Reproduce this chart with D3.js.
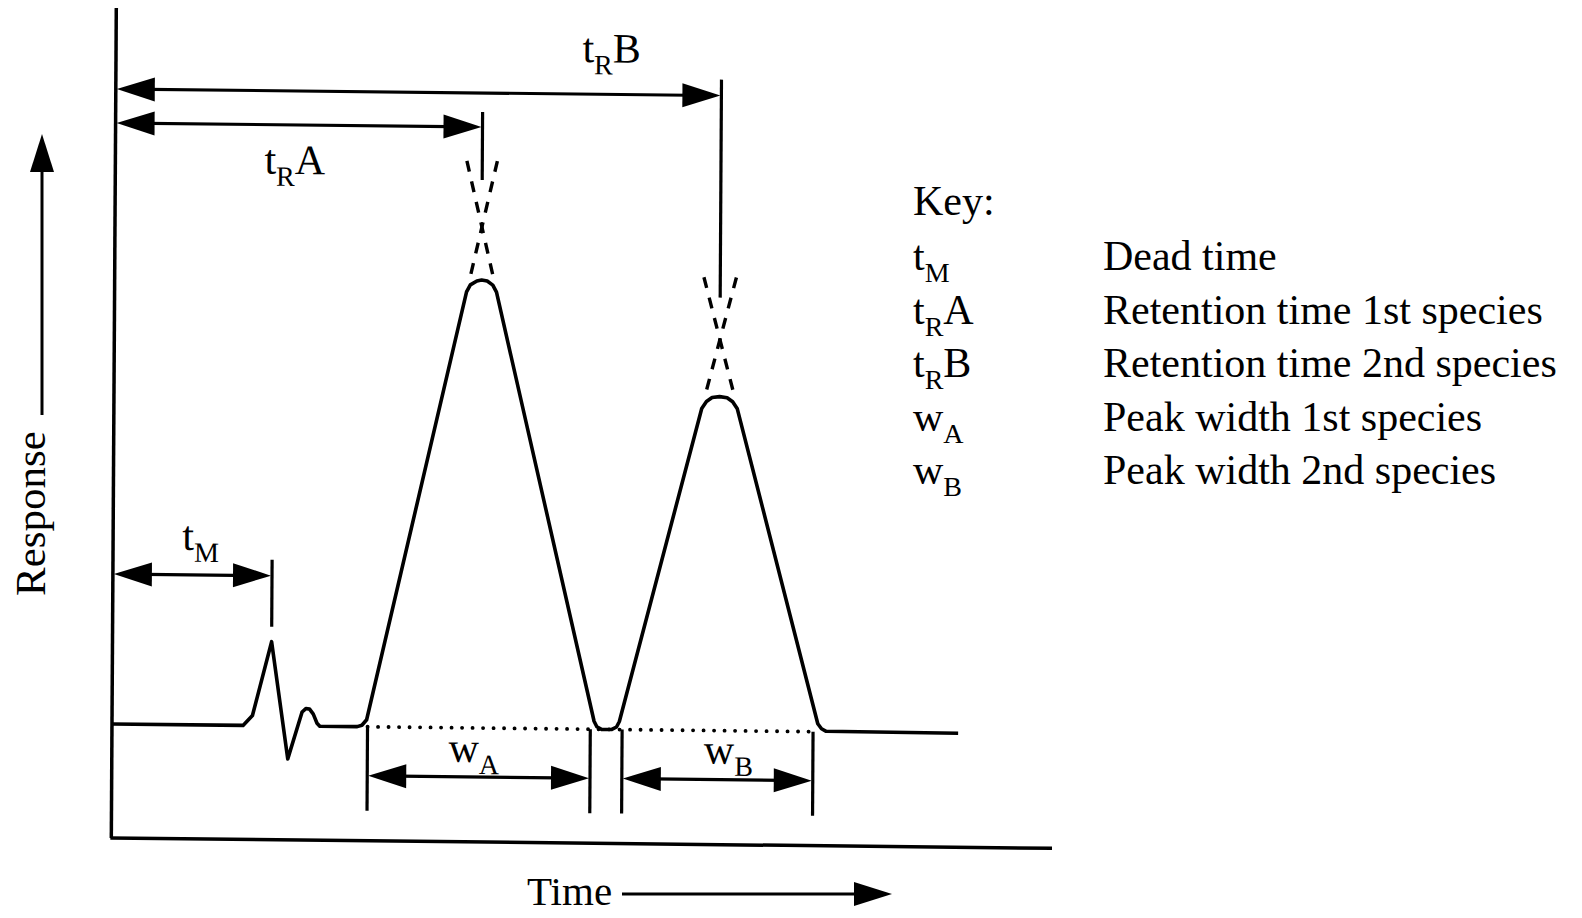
<!DOCTYPE html>
<html>
<head>
<meta charset="utf-8">
<script src="https://cdn.jsdelivr.net/npm/d3@7/dist/d3.min.js"></script>
<style>
  body { margin: 0; background: #fff; }
  svg { display: block; font-family: "Liberation Serif", "Times New Roman", serif; }
</style>
</head>
<body>
<script>
// detector trace [time, response]
var trace = [
  [0, 0], [1.40, 0], [1.50, 0.10], [1.70, 0.84], [1.88, -0.33],
  [2.03, 0.14], [2.07, 0.175], [2.11, 0.17], [2.15, 0.12], [2.19, 0.03], [2.22, 0],
  [2.62, 0], [2.67, 0.015], [2.72, 0.07],
  [3.76, 4.36], [3.80, 4.43], [3.87, 4.47], [3.92, 4.48], [3.98, 4.47], [4.04, 4.43], [4.08, 4.36],
  [5.15, 0.08], [5.18, 0.025], [5.23, 0], [5.34, 0], [5.39, 0.025], [5.42, 0.08],
  [6.28, 3.22], [6.33, 3.29], [6.39, 3.33], [6.47, 3.34], [6.55, 3.33], [6.61, 3.29], [6.66, 3.22],
  [7.54, 0.08], [7.58, 0.03], [7.63, 0.005], [9.04, 0]
];

// peaks
var peakNames = ["A", "B"];
var retentionTimes = [3.92, 6.47];
var apexHeights = [5.01, 3.91];      // where the two tangents cross
var tangentStart = [2.70, 5.39];
var tangentEnd = [5.17, 7.57];
var widthStart = [2.73, 5.45];
var widthEnd = [5.11, 7.49];
var dashFrom = [4.54, 3.41];
var dashTo = [5.73, 4.57];
var retentionArrowLevel = [6.01, 6.35];
var retentionTickTop = [6.16, 6.51];
var retentionTickBottom = [5.48, 4.33];

// dead time
var deadTime = 1.70;
var deadArrowLevel = 1.50;
var deadTick = [0.99, 1.66];

var widthArrowLevel = -0.49;
var widthTickBottom = -0.84;

var axisTime = [0, 10.05];
var axisResp = [-1.14, 7.16];

// key
var keySymbols = [["t", "M", ""], ["t", "R", "A"], ["t", "R", "B"], ["w", "A", ""], ["w", "B", ""]];
var keyLabels = ["Dead time", "Retention time 1st species", "Retention time 2nd species",
                 "Peak width 1st species", "Peak width 2nd species"];

var width = 1582, height = 918;
var svg = d3.select("body").append("svg")
  .attr("width", width)
  .attr("height", height);

var x = d3.scaleLinear().domain([0, 10]).range([112, 1048]);
var y = d3.scaleLinear().domain([0, 5]).range([724, 224]);

// the scan is a little skewed, so the drawing is too
var g = svg.append("g")
  .attr("transform", "matrix(1,0.011,-0.006,1,4.338,-1.276)");

var ink = "#000";
var head = 38, half = 12;

function arrowHead(sel, px, py, dx, dy) {
  // tip at (px,py), pointing along (dx,dy)
  var bx = px - dx * head, by = py - dy * head;
  var nx = -dy * half, ny = dx * half;
  sel.append("path")
    .attr("d", "M" + px + "," + py + "L" + (bx + nx) + "," + (by + ny) + "L" + (bx - nx) + "," + (by - ny) + "Z")
    .attr("fill", ink);
}

function dimArrow(t0, t1, r) {
  var yy = y(r);
  g.append("line")
    .attr("x1", x(t0) + 10).attr("x2", x(t1) - 10)
    .attr("y1", yy).attr("y2", yy)
    .attr("stroke", ink).attr("stroke-width", 3.2);
  arrowHead(g, x(t0) + 1, yy, -1, 0);
  arrowHead(g, x(t1) - 1, yy, 1, 0);
}

function vline(t, r0, r1, w) {
  g.append("line")
    .attr("x1", x(t)).attr("x2", x(t))
    .attr("y1", y(r0)).attr("y2", y(r1))
    .attr("stroke", ink).attr("stroke-width", w || 3.2);
}

function label(px, py, main, sub, after) {
  var t = g.append("text")
    .attr("x", px).attr("y", py)
    .attr("text-anchor", "middle")
    .attr("font-size", 42)
    .attr("fill", ink);
  t.append("tspan").text(main);
  t.append("tspan").attr("dy", 12).attr("font-size", 28).text(sub);
  if (after) t.append("tspan").attr("dy", -12).text(after);
}

// axes
g.append("line")
  .attr("x1", x(0)).attr("x2", x(0))
  .attr("y1", y(axisResp[0])).attr("y2", y(axisResp[1]))
  .attr("stroke", ink).attr("stroke-width", 3.5);
g.append("line")
  .attr("x1", x(axisTime[0]) - 1).attr("x2", x(axisTime[1]))
  .attr("y1", y(axisResp[0])).attr("y2", y(axisResp[0]))
  .attr("stroke", ink).attr("stroke-width", 3.5);

// dotted baseline under the peaks
g.append("line")
  .attr("x1", x(widthStart[0])).attr("x2", x(widthEnd[1]))
  .attr("y1", y(0)).attr("y2", y(0))
  .attr("stroke", ink).attr("stroke-width", 3.8)
  .attr("stroke-linecap", "round")
  .attr("stroke-dasharray", "0.1,10.4");

// trace
var line = d3.line().x(function(d) { return x(d[0]); }).y(function(d) { return y(d[1]); });
g.append("path")
  .attr("d", line(trace))
  .attr("fill", "none")
  .attr("stroke", ink)
  .attr("stroke-width", 3.6)
  .attr("stroke-linejoin", "round");

// extended tangents above each peak
peakNames.forEach(function(n, i) {
  var h = apexHeights[i], tr = retentionTimes[i];
  var leftT = function(r) { return tangentStart[i] + r / h * (tr - tangentStart[i]); };
  var rightT = function(r) { return tangentEnd[i] - r / h * (tangentEnd[i] - tr); };
  [leftT, rightT].forEach(function(f) {
    g.append("line")
      .attr("x1", x(f(dashFrom[i]))).attr("y1", y(dashFrom[i]))
      .attr("x2", x(f(dashTo[i]))).attr("y2", y(dashTo[i]))
      .attr("stroke", ink).attr("stroke-width", 3.4)
      .attr("stroke-dasharray", "11,10");
  });

  // retention time arrow from the start
  vline(tr, retentionTickBottom[i], retentionTickTop[i]);
  dimArrow(0, tr, retentionArrowLevel[i]);

  // peak width
  vline(widthStart[i], 0, widthTickBottom);
  vline(widthEnd[i], 0, widthTickBottom);
  dimArrow(widthStart[i], widthEnd[i], widthArrowLevel);
});

// dead time
vline(deadTime, deadTick[0], deadTick[1]);
dimArrow(0, deadTime, deadArrowLevel);

// labels on the drawing
label(x(retentionTimes[1]) - 110, y(retentionArrowLevel[1]) - 32, "t", "R", "B");
label((x(0) + x(retentionTimes[0])) / 2 - 4, y(retentionArrowLevel[0]) + 49, "t", "R", "A");
label((x(0) + x(deadTime)) / 2 + 8, y(deadArrowLevel) - 25, "t", "M", "");
label((x(widthStart[0]) + x(widthEnd[0])) / 2 - 5, y(widthArrowLevel) - 15, "w", "A", "");
label((x(widthStart[1]) + x(widthEnd[1])) / 2 + 11, y(widthArrowLevel) - 16, "w", "B", "");

// axis titles
svg.append("text")
  .attr("transform", "translate(45,596) rotate(-90)")
  .attr("font-size", 43)
  .text("Response");
svg.append("line")
  .attr("x1", 42).attr("x2", 42)
  .attr("y1", 415).attr("y2", 165)
  .attr("stroke", ink).attr("stroke-width", 3);
arrowHead(svg, 42, 134, 0, -1);

svg.append("text")
  .attr("x", 527).attr("y", 905)
  .attr("font-size", 41)
  .text("Time");
svg.append("line")
  .attr("x1", 622).attr("x2", 865)
  .attr("y1", 894).attr("y2", 894)
  .attr("stroke", ink).attr("stroke-width", 3);
arrowHead(svg, 892, 894, 1, 0);

// key
var key = svg.append("g").attr("font-size", 42).attr("fill", ink);
key.append("text").attr("x", 913).attr("y", 215).text("Key:");
var rows = key.selectAll("g.row")
  .data(keyLabels)
  .enter().append("g")
  .attr("class", "row")
  .attr("transform", function(d, i) { return "translate(0," + (270 + i * 53.5) + ")"; });
rows.append("text")
  .attr("x", 913)
  .each(function(d, i) {
    var s = keySymbols[i], t = d3.select(this);
    t.append("tspan").text(s[0]);
    t.append("tspan").attr("dy", 12).attr("font-size", 28).text(s[1]);
    if (s[2]) t.append("tspan").attr("dy", -12).text(s[2]);
  });
rows.append("text")
  .attr("x", 1103)
  .text(function(d) { return d; });
</script>
</body>
</html>
